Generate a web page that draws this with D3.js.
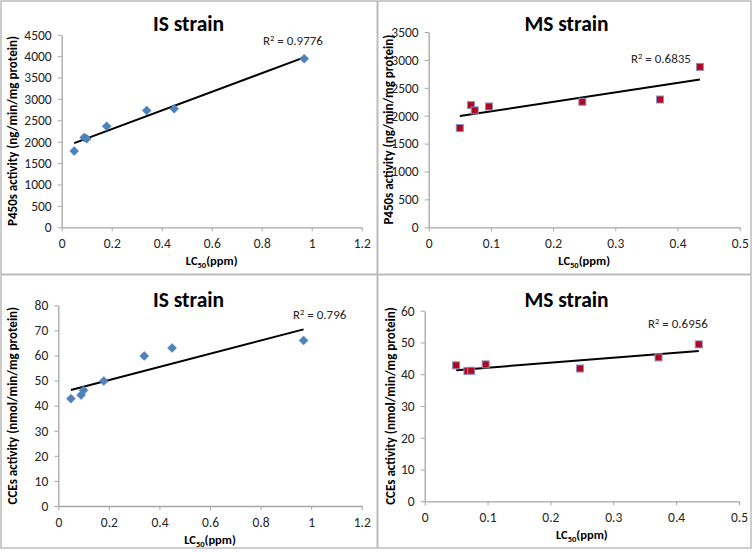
<!DOCTYPE html>
<html><head><meta charset="utf-8">
<script src="https://cdn.jsdelivr.net/npm/d3@7"></script>
<style>
body{margin:0;background:#fff}
svg{display:block}
text{font-family:Carlito, Lato, "Liberation Sans", sans-serif}
</style>
</head><body>
<svg id="chart" width="756" height="552"></svg>
<script>
// ---------- data ----------
const isLC50 = [0.05, 0.09, 0.10, 0.18, 0.34, 0.45, 0.97];
const msLC50 = [0.05, 0.068, 0.074, 0.097, 0.247, 0.372, 0.436];
const isP450 = [1780, 2100, 2070, 2360, 2730, 2770, 3940];
const msP450 = [1780, 2190, 2095, 2165, 2250, 2290, 2875];
const isCCE  = [42.8, 44.2, 46.1, 49.8, 59.8, 63.0, 66.0];
const msCCE  = [42.8, 41.0, 41.1, 43.1, 41.8, 45.3, 49.4];
const panelTitles = ["IS strain", "MS strain", "IS strain", "MS strain"];
const yTitles = ["P450s activity (ng/min/mg protein)", "P450s activity (ng/min/mg protein)",
                 "CCEs activity (nmol/min/mg protein)", "CCEs activity (nmol/min/mg protein)"];
const r2Texts = ["0.9776", "0.6835", "0.796", "0.6956"];
const xTicksIS = [0, 0.2, 0.4, 0.6, 0.8, 1, 1.2];
const xTicksMS = [0, 0.1, 0.2, 0.3, 0.4, 0.5];
const yTicksP450IS = [0, 500, 1000, 1500, 2000, 2500, 3000, 3500, 4000, 4500];
const yTicksP450MS = [0, 500, 1000, 1500, 2000, 2500, 3000, 3500];
const yTicksCCEIS = [0, 10, 20, 30, 40, 50, 60, 70, 80];
const yTicksCCEMS = [0, 10, 20, 30, 40, 50, 60];

// ---------- layout ----------
const panels = [
  {ox:0,   oy:0,   left:61.7,  right:361.7, top:34.7,  bottom:227.3, ytx:17, xs:isLC50, ys:isP450, xt:xTicksIS, yt:yTicksP450IS, marker:"diamond", r2x:263, r2y:45},
  {ox:378, oy:0,   left:50.7,  right:361.7, top:32,    bottom:227.3, ytx:15, xs:msLC50, ys:msP450, xt:xTicksMS, yt:yTicksP450MS, marker:"square",  r2x:253, r2y:63},
  {ox:0,   oy:276, left:58.3,  right:361.7, top:29.3,  bottom:230,   ytx:17, xs:isLC50, ys:isCCE,  xt:xTicksIS, yt:yTicksCCEIS,  marker:"diamond", r2x:293, r2y:43},
  {ox:378, oy:276, left:46.7,  right:361,   top:34.7,  bottom:225.3, ytx:17, xs:msLC50, ys:msCCE,  xt:xTicksMS, yt:yTicksCCEMS,  marker:"square",  r2x:270, r2y:52}
];
const axisColor = "#a6a6a6";
const textColor = "#262626";

const svg = d3.select("#chart");

// frame
svg.append("rect").attr("x",1).attr("y",1).attr("width",750).attr("height",547)
  .attr("fill","none").attr("stroke","#bcbcbc").attr("stroke-width",1.5);
svg.append("line").attr("x1",377.5).attr("x2",377.5).attr("y1",1).attr("y2",548)
  .attr("stroke","#bcbcbc").attr("stroke-width",2);
svg.append("line").attr("x1",1).attr("x2",751).attr("y1",274.5).attr("y2",274.5)
  .attr("stroke","#bcbcbc").attr("stroke-width",2);

function linreg(xs, ys){
  const n = xs.length, mx = d3.mean(xs), my = d3.mean(ys);
  let sxy = 0, sxx = 0;
  for (let i=0;i<n;i++){ sxy += (xs[i]-mx)*(ys[i]-my); sxx += (xs[i]-mx)**2; }
  const b = sxy/sxx; return {b, a: my - b*mx};
}

panels.forEach((p, i) => {
  const g = svg.append("g").attr("transform", `translate(${p.ox},${p.oy})`);
  const x = d3.scaleLinear().domain([p.xt[0], p.xt[p.xt.length-1]]).range([p.left, p.right]);
  const y = d3.scaleLinear().domain([p.yt[0], p.yt[p.yt.length-1]]).range([p.bottom, p.top]);

  // axes
  const xAxis = d3.axisBottom(x).tickValues(p.xt).tickFormat(d3.format("~g")).tickSizeOuter(0).tickSizeInner(4).tickPadding(7);
  const yAxis = d3.axisLeft(y).tickValues(p.yt).tickFormat(d3.format("~g")).tickSizeOuter(0).tickSizeInner(4).tickPadding(6);
  const gx = g.append("g").attr("transform", `translate(0,${p.bottom})`).call(xAxis);
  const gy = g.append("g").attr("transform", `translate(${p.left},0)`).call(yAxis);
  [gx, gy].forEach(a => {
    a.select(".domain").attr("stroke", axisColor).attr("stroke-width", 1.3);
    a.selectAll(".tick line").attr("stroke", axisColor);
    a.selectAll(".tick text").attr("fill", textColor).style("font-size", "13.5px").style("font-family", "Carlito, Lato, sans-serif");
  });

  // title
  g.append("text").attr("x", 188.5).attr("y", 31).attr("text-anchor","middle")
    .style("font-size","21.5px").style("font-weight","bold").attr("fill","#000").text(panelTitles[i]);

  // y title
  g.append("text").attr("transform", `translate(${p.ytx},${(p.top+p.bottom)/2}) rotate(-90)`)
    .attr("text-anchor","middle").style("font-size","13px").style("font-weight","bold")
    .attr("fill","#000").text(yTitles[i]);

  // x title
  const xt = g.append("text").attr("x", (p.left+p.right)/2).attr("y", p.bottom + 38)
    .attr("text-anchor","middle").style("font-size","12.5px").style("font-weight","bold").attr("fill","#000");
  xt.append("tspan").text("LC");
  xt.append("tspan").attr("dy", 3).style("font-size","8.5px").text("50");
  xt.append("tspan").attr("dy", -3).text("(ppm)");

  // trendline
  const {a, b} = linreg(p.xs, p.ys);
  const x0 = d3.min(p.xs), x1 = d3.max(p.xs);
  g.append("line").attr("x1", x(x0)).attr("y1", y(a+b*x0)).attr("x2", x(x1)).attr("y2", y(a+b*x1))
    .attr("stroke","#000").attr("stroke-width",2);

  // markers
  const pts = p.xs.map((v, k) => [v, p.ys[k]]);
  if (p.marker === "diamond") {
    g.selectAll("path.pt").data(pts).enter().append("path").attr("class","pt")
      .attr("transform", d => `translate(${x(d[0])},${y(d[1])})`)
      .attr("d", "M0,-4.5L4.5,0L0,4.5L-4.5,0Z")
      .attr("fill","#4f81bd").attr("stroke","#4a7ab5").attr("stroke-width",0.5);
  } else {
    g.selectAll("rect.pt").data(pts).enter().append("rect").attr("class","pt")
      .attr("x", d => x(d[0]) - 3.5).attr("y", d => y(d[1]) - 3.5)
      .attr("width", 7).attr("height", 7)
      .attr("fill","#b0081c").attr("stroke","#8e8ec8").attr("stroke-width",1);
  }

  // R² label
  const r = g.append("text").attr("x", p.r2x).attr("y", p.r2y).style("font-size","13px").attr("fill",textColor);
  r.append("tspan").text("R");
  r.append("tspan").attr("dy",-4).style("font-size","8.5px").text("2");
  r.append("tspan").attr("dy",4).text(" = " + r2Texts[i]);
});
</script>
</body></html>
